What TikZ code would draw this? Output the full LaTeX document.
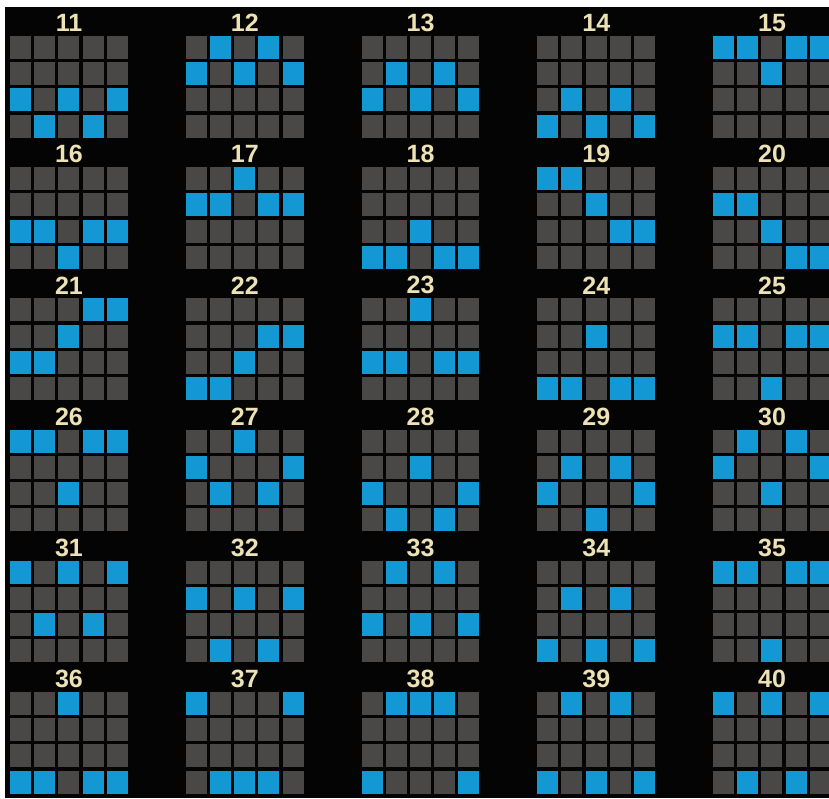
\documentclass[tikz,border=0pt]{standalone}
\usepackage{fontspec}
\setmainfont{Liberation Sans}
\definecolor{bgblack}{RGB}{4,4,4}
\definecolor{cellgray}{RGB}{74,72,71}
\definecolor{lineblue}{RGB}{20,152,212}
\definecolor{lblcream}{RGB}{236,226,182}
\tikzset{
  lbl/.style={text=lblcream,font=\fontsize{25}{25}\selectfont\bfseries,inner sep=0pt,anchor=center},
}
\begin{document}
\begin{tikzpicture}[x=1pt,y=-1pt]
\fill[white] (0,0) rectangle (829,798);
\fill[bgblack] (5,7) rectangle (829,798);
\useasboundingbox (0,0) rectangle (829,798);
\foreach \n/\a/\b/\c/\d/\e in {
 11/3/4/3/4/3, 12/2/1/2/1/2, 13/3/2/3/2/3, 14/4/3/4/3/4, 15/1/1/2/1/1,
 16/3/3/4/3/3, 17/2/2/1/2/2, 18/4/4/3/4/4, 19/1/1/2/3/3, 20/2/2/3/4/4,
 21/3/3/2/1/1, 22/4/4/3/2/2, 23/3/3/1/3/3, 24/4/4/2/4/4, 25/2/2/4/2/2,
 26/1/1/3/1/1, 27/2/3/1/3/2, 28/3/4/2/4/3, 29/3/2/4/2/3, 30/2/1/3/1/2,
 31/1/3/1/3/1, 32/2/4/2/4/2, 33/3/1/3/1/3, 34/4/2/4/2/4, 35/1/1/4/1/1,
 36/4/4/1/4/4, 37/1/4/4/4/1, 38/4/1/1/1/4, 39/4/1/4/1/4, 40/1/4/1/4/1}{
  \pgfmathtruncatemacro\idx{\n-11}
  \pgfmathtruncatemacro\gr{div(\idx,5)}
  \pgfmathtruncatemacro\gc{mod(\idx,5)}
  \pgfmathsetmacro\gx{10+175.75*\gc}
  \pgfmathsetmacro\gy{36+131.2*\gr}
  \foreach \i/\r in {0/\a,1/\b,2/\c,3/\d,4/\e}{
    \foreach \j in {1,2,3,4}{
      \pgfmathtruncatemacro\hit{\j==\r ? 1 : 0}
      \ifnum\hit=1 \def\cc{lineblue}\else\def\cc{cellgray}\fi
      \fill[\cc] ({\gx+\i*24.2},{\gy+(\j-1)*26.2}) rectangle ++(21,23);
    }
  }
  \node[lbl] (t\n) at ({\gx+59},{\gy-13}) {\n};
}
\end{tikzpicture}
\end{document}
